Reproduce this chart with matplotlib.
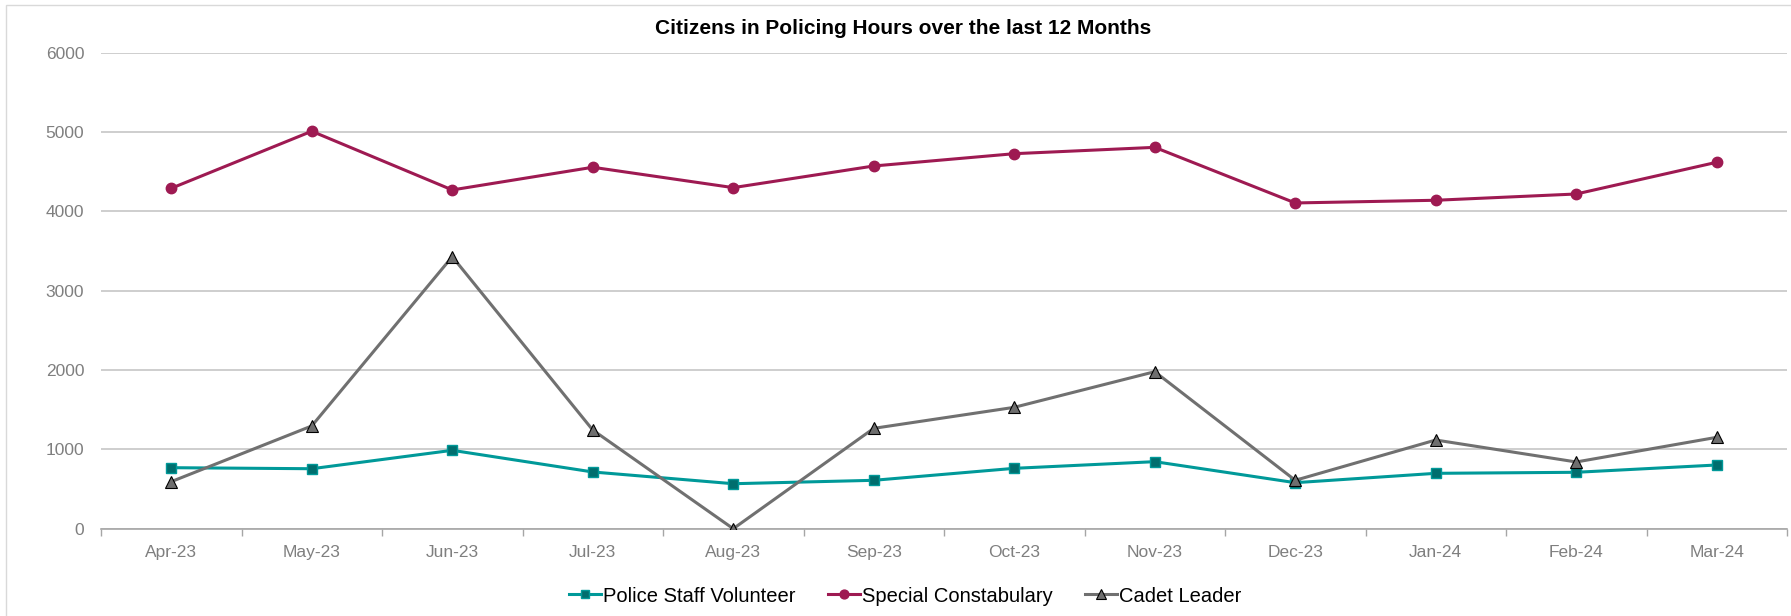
import matplotlib
matplotlib.use("Agg")
import matplotlib.pyplot as plt
from matplotlib.patches import Rectangle

plt.rcParams['font.family'] = ['Liberation Sans', 'DejaVu Sans']

months = ["Apr-23", "May-23", "Jun-23", "Jul-23", "Aug-23", "Sep-23",
          "Oct-23", "Nov-23", "Dec-23", "Jan-24", "Feb-24", "Mar-24"]
police_staff_volunteer = [769, 756, 988, 715, 567, 610, 761, 845, 580, 698, 711, 803]
special_constabulary = [4291, 5010, 4270, 4556, 4299, 4572, 4727, 4807, 4106, 4140, 4219, 4619]
cadet_leader = [593, 1295, 3429, 1244, 0, 1265, 1530, 1979, 610, 1118, 841, 1152]
y_ticks = [0, 1000, 2000, 3000, 4000, 5000, 6000]

W, H = 1791, 616
fig = plt.figure(figsize=(W / 100, H / 100), dpi=100)
fig.patch.set_facecolor("white")
fig.patches.append(Rectangle((6 / W, -0.01), 1.02, 1 - 5 / H + 0.01, transform=fig.transFigure,
                             fill=False, edgecolor="#D9D9D9", linewidth=1))

ax = fig.add_axes([101 / W, 1 - 528.7 / H, (1787 - 101) / W, (528.7 - 52.7) / H])
x = list(range(len(months)))

ax.plot(x, police_staff_volunteer, color="#009999", linewidth=2.2, marker="s", markersize=7.5,
        markerfacecolor="#006E6E", markeredgecolor="#009999", markeredgewidth=1,
        label="Police Staff Volunteer", zorder=3)
ax.plot(x, special_constabulary, color="#9E1A52", linewidth=2.2, marker="o", markersize=7.5,
        markerfacecolor="#9E1A52", markeredgecolor="#9E1A52",
        label="Special Constabulary", zorder=3)
ax.plot(x, cadet_leader, color="#707070", linewidth=2.2, marker="^", markersize=8,
        markerfacecolor="#6E6E6E", markeredgecolor="#000000", markeredgewidth=0.8,
        label="Cadet Leader", zorder=4)

ax.set_xlim(-0.5, len(months) - 0.5)
ax.set_ylim(0, 6000)
ax.set_yticks(y_ticks)
ax.set_yticklabels([str(v) for v in y_ticks])
ax.set_xticks(x)
ax.set_xticklabels(months)
ax.set_xticks([i - 0.5 for i in range(len(months) + 1)], minor=True)
ax.tick_params(axis="x", which="major", length=0, pad=12, labelsize=12.5, labelcolor="#7F7F7F")
ax.tick_params(axis="x", which="minor", length=5, color="#A6A6A6", width=1)
ax.tick_params(axis="y", length=0, pad=12, labelsize=12.5, labelcolor="#7F7F7F")

ax.grid(axis="y", color="#C6C6C6", linewidth=1.2)
ax.set_axisbelow(True)
for s in ["top", "right", "left"]:
    ax.spines[s].set_visible(False)
ax.spines["bottom"].set_color("#A6A6A6")
ax.spines["bottom"].set_linewidth(1.2)

fig.text(903 / W, 1 - 29 / H, "Citizens in Policing Hours over the last 12 Months",
         ha="center", va="center", fontsize=15, fontweight="bold", color="black")

leg = fig.legend(loc="center", bbox_to_anchor=(905 / W, 1 - 596 / H), ncol=3, frameon=False,
                 fontsize=14.5, handlelength=1.6, handletextpad=0.1, columnspacing=1.6,
                 markerscale=0.85)

fig.savefig("out.png", dpi=100, facecolor="white")
